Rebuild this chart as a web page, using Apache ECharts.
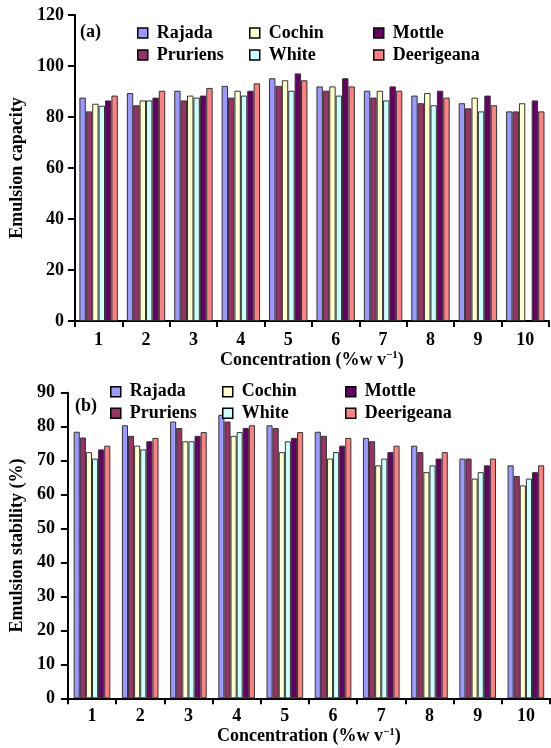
<!DOCTYPE html>
<html>
<head>
<meta charset="utf-8">
<script src="https://cdn.jsdelivr.net/npm/echarts@6/dist/echarts.min.js"></script>
<style>html,body{margin:0;padding:0;background:#fff}#c{width:551px;height:748px}</style>
</head>
<body>
<div id="c"></div>
<script>
const categories = ['1','2','3','4','5','6','7','8','9','10'];
const seriesNames = ['Rajada','Pruriens','Cochin','White','Mottle','Deerigeana'];
const seriesColors = ['#9999ff','#993366','#ffffcc','#ccffff','#660066','#ff8080'];

// (a) Emulsion capacity
const capRajada     = [87.6, 89.4, 90.3, 92.2, 95.2, 92.0, 90.3, 88.4, 85.4, 82.2];
const capPruriens   = [82.2, 84.6, 86.5, 87.6, 92.2, 90.3, 87.6, 85.4, 83.4, 82.2];
const capCochin     = [85.2, 86.5, 88.4, 90.3, 94.4, 92.0, 90.3, 89.4, 87.6, 85.4];
const capWhite      = [84.4, 86.5, 87.6, 88.4, 90.3, 88.4, 86.5, 84.6, 82.2, null];
const capMottle     = [86.5, 87.6, 88.4, 90.3, 97.1, 95.2, 92.0, 90.3, 88.4, 86.5];
const capDeerigeana = [88.4, 90.3, 91.4, 93.2, 94.4, 92.0, 90.3, 87.6, 84.6, 82.2];

// (b) Emulsion stability (%)
const stabRajada     = [78.5, 80.4, 81.5, 83.5, 80.4, 78.5, 76.7, 74.4, 70.6, 68.6];
const stabPruriens   = [76.8, 77.3, 79.6, 81.5, 79.6, 77.3, 75.7, 72.5, 70.6, 65.5];
const stabCochin     = [72.5, 74.4, 75.7, 77.3, 72.5, 70.6, 68.6, 66.6, 64.7, 62.7];
const stabWhite      = [70.6, 73.3, 75.7, 78.4, 75.7, 72.5, 70.6, 68.6, 66.6, 64.7];
const stabMottle     = [73.3, 75.7, 77.3, 79.6, 76.7, 74.4, 72.5, 70.6, 68.6, 66.6];
const stabDeerigeana = [74.4, 76.7, 78.4, 80.4, 78.4, 76.7, 74.4, 72.5, 70.6, 68.6];

const capData  = [capRajada, capPruriens, capCochin, capWhite, capMottle, capDeerigeana];
const stabData = [stabRajada, stabPruriens, stabCochin, stabWhite, stabMottle, stabDeerigeana];

const yTicksA = {min: 0, max: 120, interval: 20};
const yTicksB = {min: 0, max: 90, interval: 10};

const FONT = '"Liberation Serif", "Times New Roman", serif';
const txt = {fontFamily: FONT, fontWeight: 'bold', fontSize: 18, color: '#000'};

function xAxis(gridIndex, margin, nameGap) {
  return {
    type: 'category', gridIndex, data: categories,
    axisLine: {lineStyle: {color: '#000', width: 2}},
    axisTick: {show: true, length: 6, lineStyle: {color: '#000', width: 2}},
    axisLabel: Object.assign({margin}, txt),
    name: 'Concentration (%w v{sup|−1})',
    nameLocation: 'middle', nameGap,
    nameTextStyle: Object.assign({}, txt, {
      rich: {sup: {fontFamily: FONT, fontWeight: 'bold', fontSize: 11, color: '#000', padding: [0, 0, 9, 0]}}
    })
  };
}
function yAxis(gridIndex, ticks, name, margin, nameGap) {
  return {
    type: 'value', gridIndex, min: ticks.min, max: ticks.max, interval: ticks.interval,
    splitLine: {show: false},
    axisLine: {show: true, lineStyle: {color: '#000', width: 2}},
    axisTick: {show: true, length: 7, lineStyle: {color: '#000', width: 2}},
    axisLabel: Object.assign({margin}, txt),
    name, nameLocation: 'middle', nameGap,
    nameTextStyle: Object.assign({}, txt)
  };
}

const series = [];
seriesNames.forEach((n, i) => {
  series.push({
    name: n, type: 'bar', xAxisIndex: 0, yAxisIndex: 0, data: capData[i],
    barGap: '0%', barCategoryGap: '19%',
    itemStyle: {color: seriesColors[i], borderColor: '#333', borderWidth: 1},
    emphasis: {disabled: true}
  });
});
seriesNames.forEach((n, i) => {
  series.push({
    name: n, type: 'bar', xAxisIndex: 1, yAxisIndex: 1, data: stabData[i],
    barGap: '0%', barCategoryGap: '24%',
    itemStyle: {color: seriesColors[i], borderColor: '#333', borderWidth: 1},
    emphasis: {disabled: true}
  });
});

function legend(left, top, names, gap) {
  return {
    orient: 'vertical', left, top, padding: 0, itemGap: gap,
    itemWidth: 10, itemHeight: 10, icon: 'rect',
    data: names, selectedMode: false,
    itemStyle: {borderColor: '#000', borderWidth: 1.5},
    textStyle: Object.assign({}, txt, {lineHeight: 18, padding: [0, 0, 0, 4]})
  };
}

const option = {
  animation: false,
  backgroundColor: '#fff',
  grid: [
    {left: 69.5, right: 2, top: 15, bottom: 427},
    {left: 66, right: 1, top: 392.7, bottom: 49.7}
  ],
  xAxis: [xAxis(0, 10, 27), xAxis(1, 9, 28)],
  yAxis: [
    yAxis(0, yTicksA, 'Emulsion capacity', 11, 42),
    yAxis(1, yTicksB, 'Emulsion stability (%)', 13, 38)
  ],
  legend: [
    legend(137, 24, ['Rajada', 'Pruriens'], 4),
    legend(249, 24, ['Cochin', 'White'], 4),
    legend(373, 24, ['Mottle', 'Deerigeana'], 4),
    legend(110, 382.7, ['Rajada', 'Pruriens'], 3.6),
    legend(222, 382.7, ['Cochin', 'White'], 3.6),
    legend(345, 382.7, ['Mottle', 'Deerigeana'], 3.6)
  ],
  graphic: [
    {type: 'text', left: 80, top: 23, style: {text: '(a)', font: 'bold 18px ' + FONT, fill: '#000'}},
    {type: 'text', left: 75, top: 397, style: {text: '(b)', font: 'bold 18px ' + FONT, fill: '#000'}}
  ],
  series
};
echarts.init(document.getElementById('c')).setOption(option);
</script>
</body>
</html>
